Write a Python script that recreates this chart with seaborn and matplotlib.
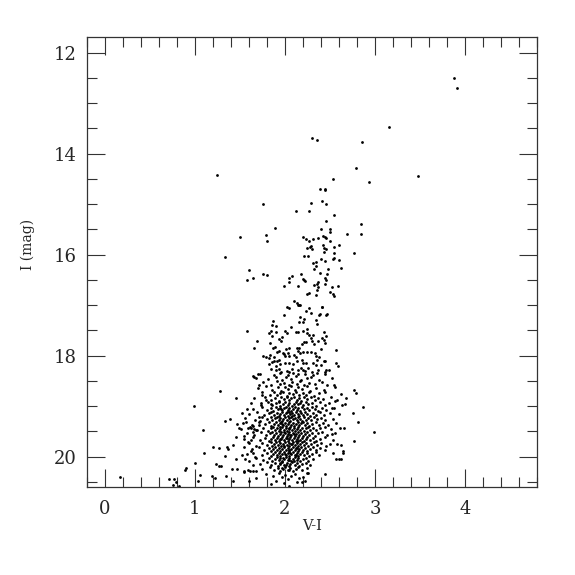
import pandas as pd
import matplotlib
matplotlib.use('Agg')
import matplotlib.pyplot as plt
import seaborn as sns
from matplotlib.ticker import MultipleLocator

# (V-I, I) pairs, grouped by region of the CMD
upper_branch = [
    (3.88, 12.51), (3.91, 12.70), (3.16, 13.47), (2.30, 13.70), (2.36, 13.74), (2.86, 13.77),
    (2.79, 14.29), (1.25, 14.42), (3.48, 14.44), (2.53, 14.51), (2.93, 14.57),
    (2.39, 14.70), (2.44, 14.71), (2.45, 14.73), (1.76, 15.00), (2.29, 14.98), (2.41, 14.94), (2.46, 15.00),
    (2.12, 15.14), (2.27, 15.13), (2.54, 15.21), (2.46, 15.33), (2.85, 15.40), (1.89, 15.48), (2.40, 15.50),
    (2.50, 15.49), (2.50, 15.56), (1.50, 15.66), (1.79, 15.62), (1.80, 15.74), (2.69, 15.60), (2.85, 15.60),
    (2.20, 15.66), (2.23, 15.70), (2.27, 15.74), (2.31, 15.70), (2.37, 15.68), (2.42, 15.64), (2.44, 15.66),
    (2.46, 15.67), (2.50, 15.74), (2.29, 15.83), (2.24, 15.87), (2.30, 15.88), (2.28, 15.85), (2.42, 15.81),
    (2.43, 15.87), (2.46, 15.88), (2.54, 15.85), (2.60, 15.81), (2.43, 15.95), (2.54, 15.96), (2.77, 15.97),
    (1.33, 16.05), (2.21, 16.02), (2.26, 16.03), (2.40, 16.09), (2.45, 16.12), (2.53, 16.09), (2.60, 16.11),
    (2.54, 16.07), (2.31, 16.17), (2.35, 16.14), (2.34, 16.22), (1.60, 16.30), (1.65, 16.46), (1.58, 16.51),
    (1.76, 16.38), (1.80, 16.40), (2.32, 16.28), (2.48, 16.29), (2.62, 16.27), (2.18, 16.38), (2.39, 16.37),
    (2.47, 16.39), (2.05, 16.47), (2.08, 16.43), (2.20, 16.49), (2.22, 16.53), (2.21, 16.50), (2.37, 16.54),
    (2.36, 16.58), (2.44, 16.46), (2.46, 16.51), (2.44, 16.59), (2.05, 16.55), (1.99, 16.63), (2.14, 16.63),
    (2.32, 16.61), (2.37, 16.64), (2.36, 16.70), (2.52, 16.65), (2.59, 16.62), (2.24, 16.78), (2.27, 16.76),
    (2.34, 16.80), (2.50, 16.74), (2.53, 16.78), (2.54, 16.82),
]

mid_branch = [
    (2.10, 16.92), (2.13, 16.95), (2.16, 16.99), (2.14, 17.00), (2.17, 16.99), (2.02, 17.03), (2.04, 17.06),
    (2.23, 17.11), (2.27, 17.06), (2.29, 17.15), (2.41, 17.04), (1.99, 17.19), (2.38, 17.19), (2.46, 17.19),
    (2.17, 17.24), (2.21, 17.27), (2.20, 17.34), (2.16, 17.33), (2.35, 17.29), (2.36, 17.37), (1.87, 17.32),
    (1.86, 17.39), (1.90, 17.41), (2.00, 17.51), (2.02, 17.55), (2.07, 17.44), (2.12, 17.53), (2.14, 17.54),
    (2.24, 17.48), (2.24, 17.56), (2.20, 17.51), (1.82, 17.56), (1.85, 17.52), (1.90, 17.53), (1.86, 17.61),
    (1.58, 17.51), (2.43, 17.54), (2.46, 17.61), (2.43, 17.69), (2.27, 17.60), (2.31, 17.60), (2.29, 17.66),
    (1.97, 17.63), (1.96, 17.70), (1.93, 17.67), (1.69, 17.70), (1.66, 17.85), (1.83, 17.74), (2.21, 17.73),
    (2.19, 17.77), (2.23, 17.72), (2.30, 17.70), (2.32, 17.77), (2.37, 17.71), (2.41, 17.66), (2.45, 17.75),
    (1.89, 17.83), (1.87, 17.85), (1.93, 17.91), (1.91, 17.93), (2.01, 17.87), (2.04, 17.85), (2.03, 17.94),
    (1.98, 17.95), (2.13, 17.85), (2.16, 17.84), (2.15, 17.91), (2.17, 17.94), (2.20, 17.93), (2.24, 17.92),
    (2.29, 17.92), (2.33, 17.95), (2.40, 17.87), (2.57, 17.89), (1.76, 18.01), (1.79, 18.02), (1.83, 17.99),
    (1.82, 18.05), (1.88, 18.03), (1.99, 17.97), (2.00, 18.01), (2.05, 18.01), (2.10, 17.99), (2.12, 18.02),
    (2.35, 18.00), (2.38, 18.02), (2.36, 18.09), (2.45, 18.10), (1.82, 18.16), (1.86, 18.12), (1.88, 18.10),
    (1.91, 18.11), (1.93, 18.08), (1.94, 18.16), (1.90, 18.20), (2.00, 18.15), (2.05, 18.14), (2.09, 18.16),
    (2.13, 18.11), (2.19, 18.09), (2.20, 18.15), (2.23, 18.15), (2.31, 18.14), (2.35, 18.18), (2.40, 18.18),
    (2.43, 18.10), (2.46, 18.28), (2.49, 18.28), (2.57, 18.14), (2.59, 18.20), (1.85, 18.26), (1.90, 18.28),
    (1.93, 18.26), (1.96, 18.32), (2.02, 18.30), (2.04, 18.32), (2.08, 18.27), (2.14, 18.28), (2.18, 18.24),
    (2.20, 18.28), (2.22, 18.30), (2.26, 18.25), (2.30, 18.33), (2.37, 18.28), (2.41, 17.03), (2.47, 17.18),
    (2.39, 17.18), (2.44, 18.32),
]

red_stragglers = [
    (2.54, 18.58), (2.77, 18.67), (2.79, 18.74), (2.68, 18.84), (2.67, 18.96), (2.87, 19.02), (2.56, 18.90),
    (2.52, 19.03), (2.76, 19.14), (2.81, 19.31), (2.66, 19.43), (2.99, 19.52), (2.52, 19.55), (2.77, 19.69),
    (2.62, 19.76), (2.50, 19.75), (2.64, 19.88), (2.65, 19.93), (2.53, 19.93), (2.57, 20.04), (2.60, 20.04),
    (2.62, 20.05), (2.44, 20.35), (2.24, 20.32), (2.26, 20.33), (2.20, 20.41), (2.22, 20.49), (2.19, 20.51),
]

blue_tail = [
    (1.28, 18.70), (0.99, 19.00), (1.46, 18.84), (1.58, 19.06), (1.52, 19.13), (1.34, 19.29), (1.39, 19.25),
    (1.09, 19.48), (1.47, 19.35), (1.49, 19.43), (1.46, 19.61), (1.20, 19.80), (1.10, 19.93), (1.00, 20.12),
    (1.27, 19.82), (1.36, 19.80), (1.37, 19.85), (1.42, 19.77), (1.34, 19.99), (1.27, 20.18), (1.29, 20.18),
    (1.24, 20.14), (1.46, 20.05), (1.47, 20.25), (1.41, 20.24), (0.90, 20.22), (0.89, 20.26), (0.71, 20.45),
    (0.77, 20.44), (0.79, 20.50), (0.82, 20.58), (0.76, 20.56), (0.17, 20.40), (1.03, 20.48), (1.06, 20.36),
    (1.19, 20.38), (1.22, 20.43), (1.35, 20.39), (1.42, 20.48), (1.54, 20.30), (1.59, 20.26), (1.64, 20.29),
    (1.56, 20.04), (1.60, 20.08), (1.67, 20.00), (1.65, 20.16), (1.73, 18.94), (1.74, 18.78), (1.79, 18.88),
    (1.71, 19.21), (1.68, 19.47), (1.64, 19.52), (1.62, 19.67), (1.54, 19.59), (1.59, 19.70), (1.55, 19.80),
    (1.57, 19.32), (1.62, 19.43), (1.64, 19.39), (1.71, 19.37), (1.59, 19.44), (1.66, 19.45), (1.64, 18.40),
    (1.66, 18.43), (1.70, 18.37), (1.71, 18.58), (1.52, 19.96), (1.58, 19.94), (1.62, 19.89), (1.55, 20.29),
    (1.61, 20.29), (1.68, 20.29), (1.60, 20.49), (1.68, 20.42),
]

core = [
    (1.72, 18.36), (1.88, 18.38), (1.95, 18.35), (2.03, 18.39), (2.09, 18.34), (2.15, 18.37), (2.22, 18.36),
    (2.31, 18.39), (2.44, 18.37), (2.36, 18.34),
    (1.68, 18.44), (1.81, 18.47), (1.90, 18.42), (1.97, 18.48), (2.01, 18.43), (2.07, 18.46), (2.12, 18.41),
    (2.18, 18.49), (2.25, 18.45), (2.29, 18.42), (2.38, 18.48), (2.52, 18.45),
    (1.76, 18.53), (1.84, 18.58), (1.91, 18.51), (1.94, 18.57), (1.99, 18.54), (2.05, 18.59), (2.08, 18.52),
    (2.13, 18.56), (2.17, 18.51), (2.21, 18.58), (2.27, 18.54), (2.33, 18.57), (2.41, 18.52), (2.47, 18.59),
    (1.70, 18.64), (1.79, 18.61), (1.86, 18.67), (1.92, 18.63), (1.96, 18.69), (2.00, 18.62), (2.03, 18.66),
    (2.07, 18.61), (2.11, 18.68), (2.15, 18.63), (2.19, 18.66), (2.24, 18.61), (2.28, 18.69), (2.35, 18.64),
    (2.43, 18.67), (2.56, 18.62),
    (1.75, 18.72), (1.83, 18.77), (1.88, 18.71), (1.91, 18.78), (1.95, 18.74), (1.98, 18.71), (2.02, 18.79),
    (2.05, 18.73), (2.09, 18.76), (2.12, 18.71), (2.16, 18.78), (2.20, 18.74), (2.23, 18.77), (2.27, 18.72),
    (2.32, 18.79), (2.38, 18.74), (2.45, 18.71), (2.62, 18.76),
    (1.66, 18.84), (1.78, 18.81), (1.85, 18.87), (1.89, 18.83), (1.93, 18.89), (1.96, 18.82), (1.99, 18.86),
    (2.02, 18.81), (2.04, 18.88), (2.07, 18.84), (2.10, 18.81), (2.13, 18.87), (2.16, 18.83), (2.18, 18.89),
    (2.21, 18.82), (2.25, 18.86), (2.29, 18.81), (2.33, 18.88), (2.37, 18.84), (2.42, 18.86), (2.51, 18.82),
    (2.58, 18.88),
    (1.62, 18.93), (1.73, 18.97), (1.81, 18.92), (1.86, 18.98), (1.90, 18.94), (1.93, 18.91), (1.95, 18.99),
    (1.98, 18.95), (2.00, 18.92), (2.03, 18.97), (2.05, 18.93), (2.08, 18.99), (2.10, 18.95), (2.12, 18.91),
    (2.15, 18.96), (2.17, 18.93), (2.20, 18.98), (2.23, 18.92), (2.26, 18.96), (2.30, 18.94), (2.34, 18.99),
    (2.39, 18.92), (2.44, 18.97), (2.49, 18.94), (2.63, 18.98), (1.84, 18.95),
    (1.65, 19.05), (1.74, 19.02), (1.80, 19.08), (1.84, 19.03), (1.87, 19.09), (1.90, 19.01), (1.92, 19.06),
    (1.94, 19.03), (1.97, 19.08), (1.99, 19.04), (2.01, 19.01), (2.03, 19.07), (2.05, 19.03), (2.07, 19.09),
    (2.09, 19.05), (2.11, 19.02), (2.13, 19.07), (2.15, 19.04), (2.17, 19.09), (2.19, 19.01), (2.21, 19.06),
    (2.24, 19.03), (2.27, 19.08), (2.30, 19.02), (2.33, 19.06), (2.37, 19.09), (2.41, 19.04), (2.46, 19.07),
    (2.55, 19.03), (1.96, 19.05),
    (1.60, 19.16), (1.69, 19.12), (1.77, 19.18), (1.82, 19.14), (1.85, 19.11), (1.88, 19.17), (1.91, 19.13),
    (1.93, 19.19), (1.95, 19.15), (1.97, 19.11), (1.99, 19.17), (2.01, 19.14), (2.03, 19.19), (2.05, 19.12),
    (2.06, 19.16), (2.08, 19.13), (2.10, 19.18), (2.12, 19.11), (2.14, 19.15), (2.16, 19.19), (2.18, 19.13),
    (2.20, 19.17), (2.22, 19.12), (2.25, 19.16), (2.28, 19.19), (2.31, 19.13), (2.35, 19.17), (2.39, 19.12),
    (2.43, 19.18), (2.50, 19.14), (2.60, 19.16), (2.02, 19.11),
    (1.56, 19.23), (1.67, 19.27), (1.75, 19.21), (1.80, 19.26), (1.84, 19.22), (1.86, 19.28), (1.89, 19.24),
    (1.91, 19.21), (1.93, 19.27), (1.95, 19.23), (1.97, 19.29), (1.98, 19.25), (2.00, 19.21), (2.02, 19.27),
    (2.04, 19.24), (2.06, 19.29), (2.07, 19.22), (2.09, 19.26), (2.11, 19.23), (2.13, 19.28), (2.15, 19.21),
    (2.17, 19.25), (2.19, 19.29), (2.21, 19.22), (2.23, 19.27), (2.26, 19.24), (2.29, 19.28), (2.32, 19.21),
    (2.36, 19.26), (2.40, 19.23), (2.45, 19.28), (2.53, 19.25), (1.72, 19.29), (2.08, 19.20),
    (1.53, 19.34), (1.63, 19.38), (1.71, 19.32), (1.78, 19.36), (1.82, 19.31), (1.85, 19.39), (1.88, 19.35),
    (1.90, 19.32), (1.92, 19.38), (1.94, 19.34), (1.96, 19.31), (1.98, 19.37), (2.00, 19.33), (2.01, 19.39),
    (2.03, 19.35), (2.05, 19.31), (2.07, 19.37), (2.09, 19.33), (2.10, 19.39), (2.12, 19.35), (2.14, 19.32),
    (2.16, 19.38), (2.18, 19.34), (2.20, 19.31), (2.22, 19.37), (2.25, 19.33), (2.27, 19.39), (2.30, 19.35),
    (2.34, 19.31), (2.38, 19.37), (2.42, 19.33), (2.48, 19.38), (2.57, 19.34), (1.97, 19.35),
    (1.51, 19.45), (1.61, 19.41), (1.69, 19.47), (1.76, 19.43), (1.81, 19.49), (1.84, 19.44), (1.87, 19.41),
    (1.89, 19.47), (1.91, 19.43), (1.93, 19.49), (1.95, 19.45), (1.97, 19.41), (1.99, 19.47), (2.01, 19.43),
    (2.02, 19.49), (2.04, 19.45), (2.06, 19.41), (2.08, 19.47), (2.10, 19.43), (2.11, 19.49), (2.13, 19.45),
    (2.15, 19.41), (2.17, 19.47), (2.19, 19.43), (2.21, 19.49), (2.23, 19.44), (2.26, 19.41), (2.28, 19.47),
    (2.31, 19.43), (2.35, 19.48), (2.39, 19.44), (2.44, 19.41), (2.51, 19.46), (2.61, 19.43), (2.05, 19.44),
    (1.94, 19.42),
    (1.58, 19.53), (1.66, 19.57), (1.73, 19.52), (1.79, 19.58), (1.83, 19.54), (1.86, 19.51), (1.88, 19.57),
    (1.90, 19.53), (1.92, 19.59), (1.94, 19.55), (1.96, 19.51), (1.98, 19.57), (2.00, 19.53), (2.02, 19.59),
    (2.03, 19.55), (2.05, 19.51), (2.07, 19.57), (2.09, 19.53), (2.11, 19.59), (2.12, 19.55), (2.14, 19.51),
    (2.16, 19.57), (2.18, 19.53), (2.20, 19.59), (2.22, 19.55), (2.24, 19.51), (2.27, 19.57), (2.30, 19.53),
    (2.33, 19.59), (2.37, 19.54), (2.41, 19.51), (2.47, 19.57), (2.56, 19.53), (2.10, 19.56), (1.99, 19.52),
    (2.06, 19.58),
    (1.55, 19.64), (1.64, 19.61), (1.72, 19.67), (1.78, 19.63), (1.82, 19.69), (1.85, 19.65), (1.87, 19.61),
    (1.89, 19.67), (1.91, 19.63), (1.93, 19.69), (1.95, 19.65), (1.97, 19.61), (1.99, 19.67), (2.01, 19.63),
    (2.03, 19.69), (2.04, 19.65), (2.06, 19.61), (2.08, 19.67), (2.10, 19.63), (2.12, 19.69), (2.13, 19.65),
    (2.15, 19.61), (2.17, 19.67), (2.19, 19.63), (2.21, 19.69), (2.23, 19.65), (2.25, 19.61), (2.28, 19.67),
    (2.31, 19.63), (2.35, 19.68), (2.39, 19.64), (2.44, 19.61), (2.53, 19.66), (2.02, 19.62), (2.14, 19.68),
    (1.96, 19.64),
    (1.60, 19.73), (1.68, 19.78), (1.74, 19.72), (1.80, 19.76), (1.84, 19.71), (1.86, 19.78), (1.88, 19.74),
    (1.90, 19.71), (1.92, 19.77), (1.94, 19.73), (1.96, 19.79), (1.98, 19.75), (2.00, 19.71), (2.02, 19.77),
    (2.04, 19.73), (2.05, 19.79), (2.07, 19.75), (2.09, 19.71), (2.11, 19.77), (2.13, 19.73), (2.15, 19.79),
    (2.17, 19.75), (2.19, 19.71), (2.21, 19.77), (2.23, 19.73), (2.26, 19.79), (2.29, 19.74), (2.32, 19.71),
    (2.36, 19.77), (2.40, 19.73), (2.46, 19.78), (2.58, 19.74), (2.08, 19.74), (1.99, 19.78),
    (1.63, 19.84), (1.71, 19.81), (1.77, 19.87), (1.82, 19.83), (1.85, 19.89), (1.87, 19.85), (1.89, 19.81),
    (1.91, 19.87), (1.93, 19.83), (1.95, 19.89), (1.97, 19.85), (1.99, 19.81), (2.01, 19.87), (2.03, 19.83),
    (2.05, 19.89), (2.07, 19.85), (2.09, 19.81), (2.11, 19.87), (2.12, 19.83), (2.14, 19.89), (2.16, 19.85),
    (2.18, 19.81), (2.20, 19.87), (2.22, 19.83), (2.25, 19.88), (2.28, 19.84), (2.31, 19.81), (2.35, 19.87),
    (2.39, 19.83), (2.44, 19.86), (2.04, 19.86), (2.13, 19.82),
    (1.65, 19.93), (1.74, 19.97), (1.80, 19.92), (1.84, 19.98), (1.87, 19.94), (1.89, 19.91), (1.91, 19.97),
    (1.93, 19.93), (1.95, 19.99), (1.97, 19.95), (1.99, 19.91), (2.01, 19.97), (2.03, 19.93), (2.05, 19.99),
    (2.07, 19.95), (2.09, 19.91), (2.11, 19.97), (2.13, 19.93), (2.15, 19.99), (2.17, 19.95), (2.19, 19.91),
    (2.21, 19.97), (2.24, 19.93), (2.27, 19.98), (2.30, 19.94), (2.34, 19.91), (2.38, 19.96), (2.06, 19.92),
    (2.00, 19.94), (2.12, 19.96),
    (1.68, 20.03), (1.76, 20.07), (1.82, 20.02), (1.86, 20.08), (1.89, 20.04), (1.91, 20.01), (1.93, 20.07),
    (1.95, 20.03), (1.97, 20.09), (1.99, 20.05), (2.01, 20.01), (2.03, 20.07), (2.05, 20.03), (2.07, 20.09),
    (2.09, 20.05), (2.11, 20.01), (2.13, 20.07), (2.15, 20.03), (2.17, 20.09), (2.20, 20.05), (2.23, 20.02),
    (2.26, 20.08), (2.31, 20.04), (2.04, 20.06), (1.98, 20.02), (2.10, 20.08),
    (1.72, 20.14), (1.80, 20.11), (1.85, 20.17), (1.89, 20.13), (1.92, 20.19), (1.95, 20.15), (1.97, 20.11),
    (1.99, 20.17), (2.02, 20.13), (2.04, 20.19), (2.06, 20.15), (2.08, 20.11), (2.11, 20.17), (2.13, 20.13),
    (2.16, 20.19), (2.19, 20.15), (2.23, 20.12), (2.28, 20.17), (2.01, 20.16), (1.94, 20.12),
    (1.75, 20.24), (1.83, 20.21), (1.88, 20.27), (1.92, 20.23), (1.95, 20.29), (1.98, 20.25), (2.00, 20.21),
    (2.03, 20.27), (2.06, 20.23), (2.09, 20.29), (2.12, 20.25), (2.15, 20.21), (2.19, 20.27), (2.24, 20.23),
    (1.97, 20.22), (2.05, 20.26),
    (1.79, 20.34), (1.87, 20.38), (1.93, 20.33), (1.97, 20.41), (2.00, 20.36), (2.03, 20.45), (2.07, 20.39),
    (2.11, 20.34), (2.16, 20.42), (1.90, 20.48), (1.99, 20.52), (2.05, 20.57), (1.84, 20.55), (2.13, 20.50),
]

groups = [upper_branch, mid_branch, red_stragglers, blue_tail, core]
df = pd.DataFrame([p for g in groups for p in g], columns=['V-I', 'I'])

sns.set_style('ticks')
plt.rcParams['font.family'] = ['DejaVu Serif']

fig = plt.figure(figsize=(5.75, 5.75), dpi=100)
ax = fig.add_axes([0.151, 0.153, 0.783, 0.782])

sns.scatterplot(data=df, x='V-I', y='I', ax=ax, s=4, marker='o',
                color='black', linewidth=0, legend=False)

ax.set_xlim(-0.2, 4.8)
ax.set_ylim(20.6, 11.7)

ax.xaxis.set_major_locator(MultipleLocator(1))
ax.xaxis.set_minor_locator(MultipleLocator(0.2))
ax.yaxis.set_major_locator(MultipleLocator(2))
ax.yaxis.set_minor_locator(MultipleLocator(0.5))

ax.tick_params(which='both', direction='in', top=True, right=True, color='#333333', width=0.8)
ax.tick_params(which='major', length=13)
ax.tick_params(which='minor', length=7)
ax.tick_params(axis='x', which='major', pad=9, labelsize=13)
ax.tick_params(axis='y', which='major', pad=7, labelsize=13)

for sp in ax.spines.values():
    sp.set_linewidth(0.9)
    sp.set_color('#333333')

ax.set_xlabel('V-I', fontsize=10.5)
ax.set_ylabel('I (mag)', fontsize=10)
ax.xaxis.set_label_coords(0.5, -0.072)
ax.yaxis.set_label_coords(-0.115, 0.54)

fig.savefig('out.png', dpi=100)
